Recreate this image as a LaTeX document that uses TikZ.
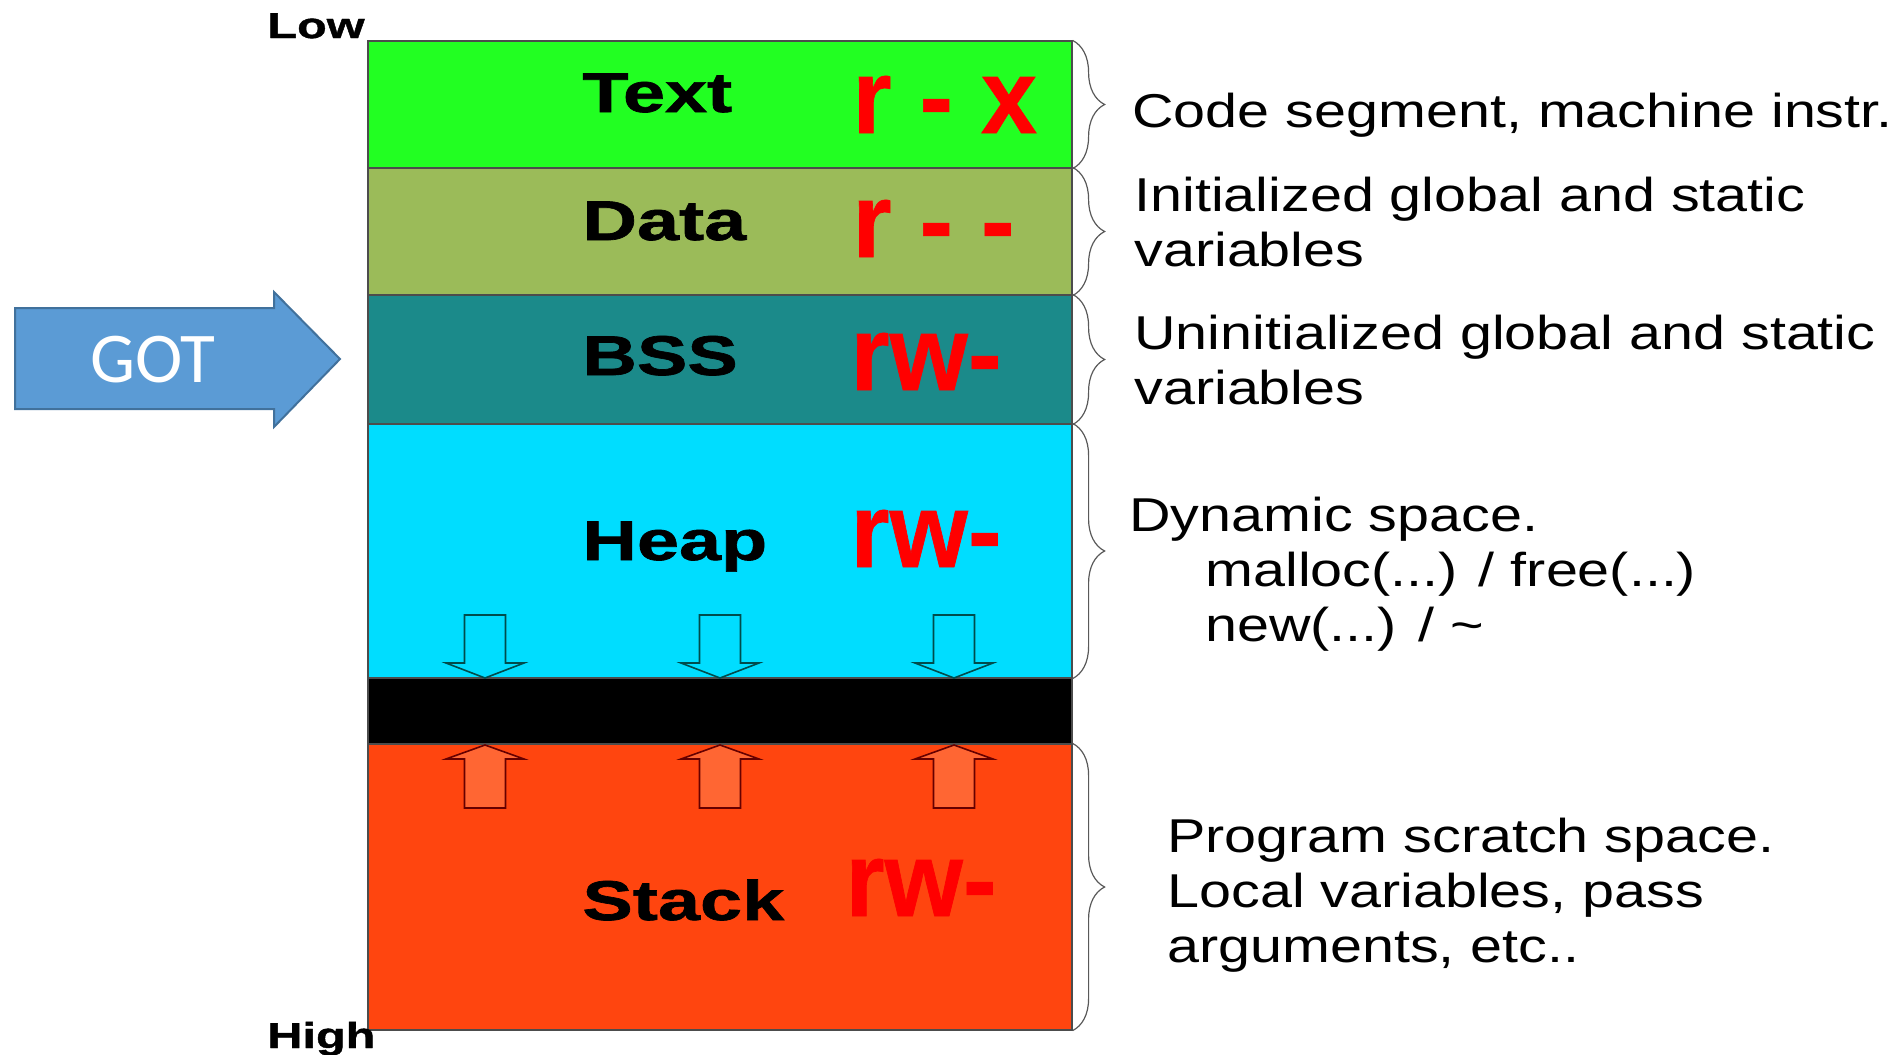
\documentclass[tikz,border=0pt]{standalone}
\usepackage{fontspec}
\setmainfont{Liberation Sans}
\newfontfamily\descfont{Liberation Sans}[FakeStretch=1.21]
\newfontfamily\segfont{Liberation Sans Bold}[FakeStretch=1.35,FakeBold=1.2]
\newfontfamily\permfont{Liberation Sans Bold}[FakeStretch=0.95,FakeBold=0.6]
\newfontfamily\gotfont{Carlito}
\usepackage{tikz}
\usetikzlibrary{positioning,decorations.pathreplacing,calc}

\definecolor{textgreen}{HTML}{22FF22}
\definecolor{datagreen}{HTML}{9BBB59}
\definecolor{bssteal}{HTML}{1B8A8A}
\definecolor{heapcyan}{HTML}{00DDFF}
\definecolor{stackred}{HTML}{FF450F}
\definecolor{uparrfill}{HTML}{FF6633}
\definecolor{gotblue}{HTML}{5B9BD5}
\definecolor{gotborder}{HTML}{41719C}

\begin{document}
\begin{tikzpicture}[x=0.5pt, y=-0.5pt,
    segbox/.style={draw=gray!60!black, line width=0.6pt, minimum width=352pt, inner sep=0pt},
    segname/.style={anchor=base west, inner sep=0pt, font=\segfont\fontsize{28pt}{30pt}\selectfont},
    perm/.style={anchor=base west, inner sep=0pt, text=red, font=\permfont\fontsize{53pt}{55pt}\selectfont},
    desc/.style={anchor=base west, inner sep=0pt, align=left, font=\descfont\fontsize{23.75pt}{27.5pt}\selectfont},
    brc/.style={decorate, decoration={brace, amplitude=16pt}, draw=gray!70!black, line width=0.6pt},
    downarr/.style={draw=teal!60!black, line width=0.8pt},
    uparr/.style={draw=red!40!black, fill=uparrfill, line width=0.8pt}]
    \useasboundingbox (0,0) rectangle (1903,1055);

    % Memory segments
    \node[segbox, fill=textgreen, minimum height=63.5pt] (text) at (720,104.5) {};
    \node[segbox, fill=datagreen, minimum height=63.5pt] (data) at (720,231.5) {};
    \node[segbox, fill=bssteal, minimum height=64.5pt] (bss) at (720,359.5) {};
    \node[segbox, fill=heapcyan, minimum height=127pt] (heap) at (720,551) {};
    \node[segbox, fill=black, minimum height=33pt] (gap) at (720,711) {};
    \node[segbox, fill=stackred, minimum height=143pt] (stack) at (720,887) {};

    % Segment names and permissions
    \node[segname] (textname) at (582,112) {Text};
    \node[segname] (dataname) at (582,240) {Data};
    \node[segname] (bssname) at (582,375) {BSS};
    \node[segname] (heapname) at (582,560) {Heap};
    \node[segname] (stackname) at (582,920) {Stack};
    \node[perm] (textperm) at (852,133) {r - x};
    \node[perm] (dataperm) at (852,257) {r - -};
    \node[perm] (bssperm) at (850,390) {rw-};
    \node[perm] (heapperm) at (850,567) {rw-};
    \node[perm] (stackperm) at (845,916) {rw-};

    % Low / High addresses
    \node[anchor=base west, inner sep=0pt, font=\segfont\fontsize{18pt}{20pt}\selectfont] (low) at (267,38) {Low};
    \node[anchor=base west, inner sep=0pt, font=\segfont\fontsize{18pt}{20pt}\selectfont] (high) at (267,1048) {High};

    % Heap grows down, stack grows up
    \foreach \c in {485,720,954} {
        \draw[downarr] (\c-20.5,615) -- ++(41,0) -- ++(0,48) -- ++(18.5,0) -- (\c,678) -- (\c-39,663) -- ++(18.5,0) -- cycle;
        \draw[uparr] (\c-20.5,808) -- ++(41,0) -- ++(0,-49) -- ++(18.5,0) -- (\c,745) -- (\c-39,759) -- ++(18.5,0) -- cycle;
    }

    % GOT arrow
    \draw[fill=gotblue, draw=gotborder, line width=1pt] (15,308) -- (274,308) -- (274,292) -- (340,359) -- (274,427) -- (274,409) -- (15,409) -- cycle;
    \node[text=white, font=\gotfont\fontsize{35.7pt}{38pt}\selectfont, inner sep=0pt] (got) at (153,360) {GOT};

    % Braces
    \draw[brc] (text.north east) -- (text.south east);
    \draw[brc] (data.north east) -- (data.south east);
    \draw[brc] (bss.north east) -- (bss.south east);
    \draw[brc] (heap.north east) -- (heap.south east);
    \draw[brc] (stack.north east) -- (stack.south east);

    % Descriptions (placed at the baseline of their last line)
    \node[desc] (textdesc) at (1132,127) {Code segment, machine instr.};
    \node[desc] (datadesc) at (1134,266) {Initialized global and static\\variables};
    \node[desc] (bssdesc) at (1134,404) {Uninitialized global and static\\variables};
    \node[desc] (heapdesc) at (1129,641) {Dynamic space.\\\hspace*{38pt}malloc(...) / free(...)\\\hspace*{38pt}new(...) / \textasciitilde};
    \node[desc] (stackdesc) at (1167,962) {Program scratch space.\\Local variables, pass\\arguments, etc..};
\end{tikzpicture}
\end{document}
